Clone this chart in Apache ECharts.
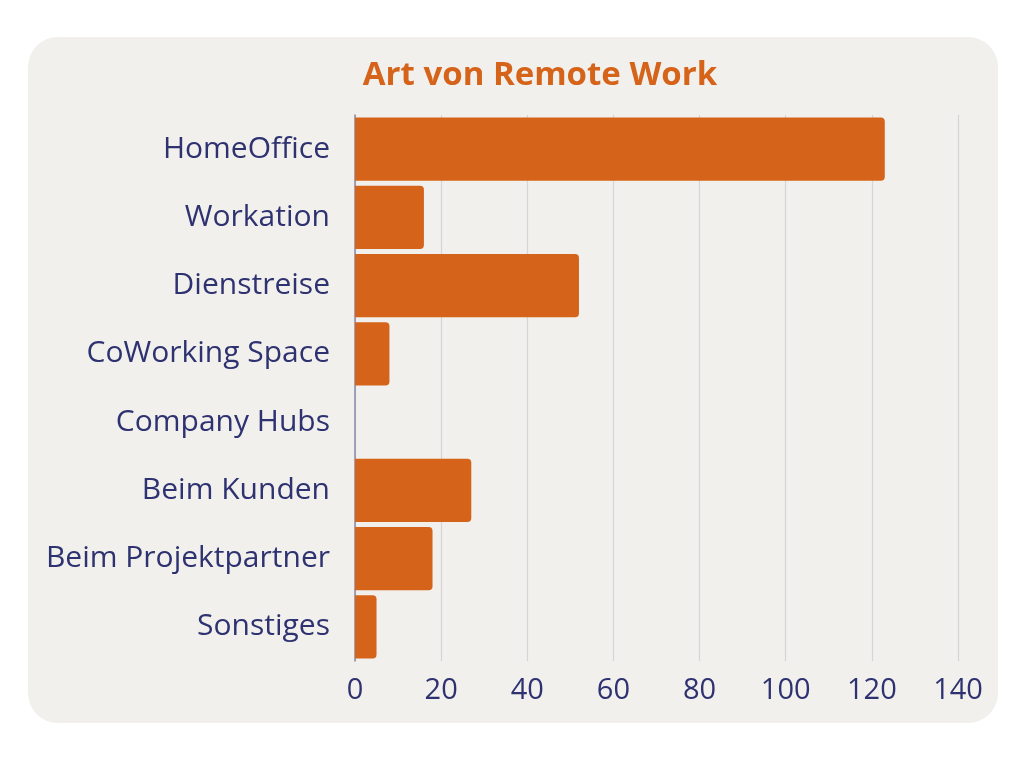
<!DOCTYPE html>
<html>
<head>
<meta charset="UTF-8">
<title>Art von Remote Work</title>
<script src="https://cdn.jsdelivr.net/npm/echarts@6/dist/echarts.min.js"></script>
<style>
  body { margin:0; background:#fff; }
  #main { width:1024px; height:768px; }
</style>
</head>
<body>
<div id="main"></div>
<script>
// Kategorien und Werte
var categories = ['HomeOffice', 'Workation', 'Dienstreise', 'CoWorking Space', 'Company Hubs', 'Beim Kunden', 'Beim Projektpartner', 'Sonstiges'];
var values = [123, 16, 52, 8, 0, 27, 18, 5];
var xTicks = [0, 20, 40, 60, 80, 100, 120, 140];

var orange = '#d5641a';
var navy = '#2e3270';
var fontFam = '"Open Sans", "Noto Sans", sans-serif';

var chart = echarts.init(document.getElementById('main'));
chart.setOption({
  animation: false,
  backgroundColor: '#ffffff',
  graphic: [{
    type: 'rect',
    z: -10,
    shape: { x: 28, y: 37, width: 970, height: 686, r: 30 },
    style: { fill: '#f2f0ed' }
  }],
  title: {
    text: 'Art von Remote Work',
    left: 535,
    textAlign: 'center',
    top: 54,
    textStyle: { color: orange, fontSize: 33, fontWeight: 'bold', fontFamily: fontFam }
  },
  grid: { left: 355, right: 66, top: 115, bottom: 107 },
  xAxis: {
    type: 'value',
    min: xTicks[0],
    max: xTicks[xTicks.length - 1],
    interval: 20,
    axisLine: { show: false },
    axisTick: { show: false },
    splitLine: { lineStyle: { color: '#d6d4d8', width: 1.2 } },
    axisLabel: { color: navy, fontSize: 29, fontFamily: fontFam, margin: 15 }
  },
  yAxis: {
    type: 'category',
    inverse: true,
    data: categories,
    axisLine: { lineStyle: { color: '#868ba8', width: 1.5 } },
    axisTick: { show: false },
    axisLabel: { color: navy, fontSize: 30, fontFamily: fontFam, margin: 25, padding: [0, 0, 6, 0] }
  },
  series: [{
    type: 'bar',
    data: values,
    barCategoryGap: '7%',
    itemStyle: { color: orange, borderRadius: [0, 4, 4, 0] }
  }]
});
</script>
</body>
</html>
